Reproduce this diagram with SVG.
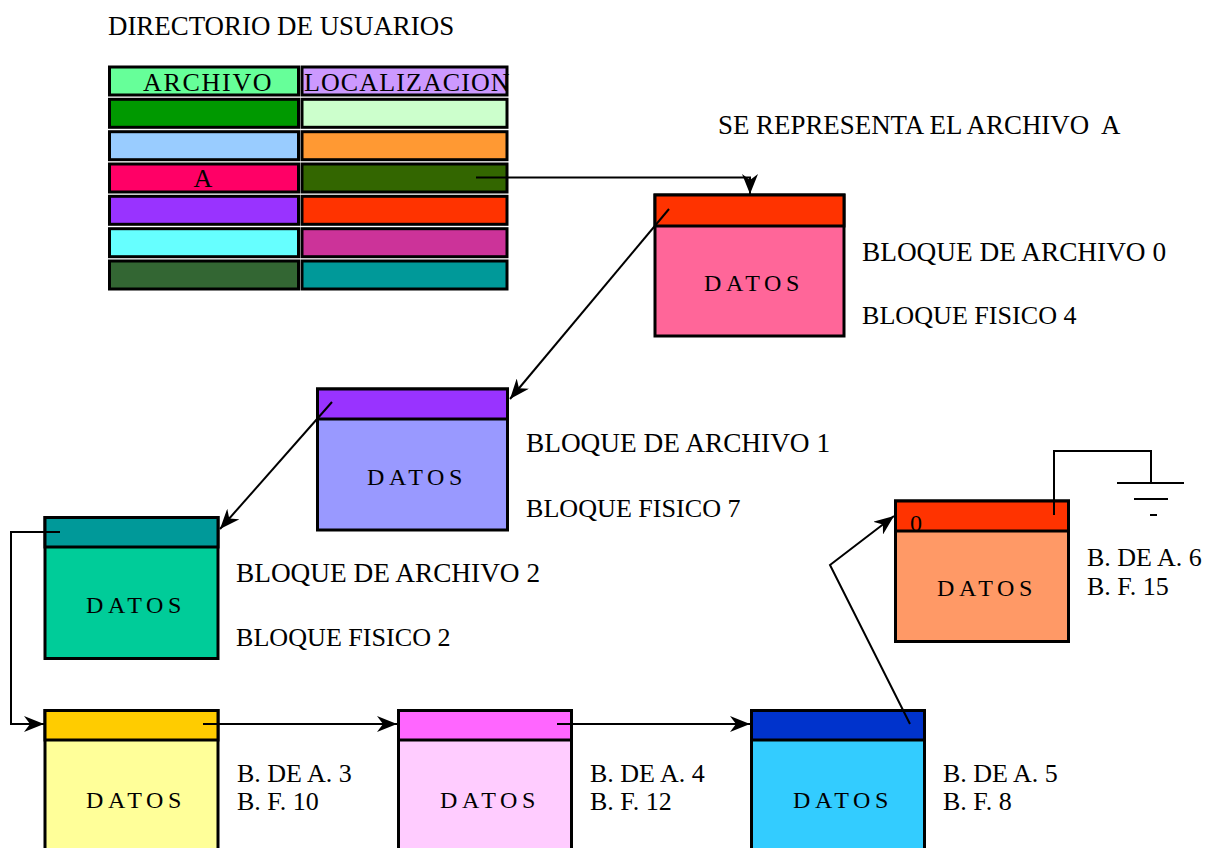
<svg xmlns="http://www.w3.org/2000/svg" width="1208" height="848" viewBox="0 0 1208 848" font-family="'Liberation Serif', 'DejaVu Serif', serif">
<style>
text{font-family:'Liberation Serif','DejaVu Serif',serif;fill:#000}
.lbl{font-size:26.9px}
.blq{font-size:27.3px}
.fis{font-size:26.1px}
.sm{font-size:26px}
.dat{font-size:24px;letter-spacing:4.6px;text-anchor:middle}
.cell{stroke:#000;stroke-width:3}
.box{stroke:#000;stroke-width:3}
.con{fill:none;stroke:#000;stroke-width:2}
</style>
<defs>
<marker id="arr" viewBox="0 0 20 16" refX="20" refY="8" markerWidth="20" markerHeight="16" orient="auto" markerUnits="userSpaceOnUse">
<path d="M0,0 L20,8 L0,16 L6,8 z" fill="#000"/>
</marker>
</defs>
<rect width="1208" height="848" fill="#fff"/>

<text class="lbl" x="108" y="35">DIRECTORIO DE USUARIOS</text>
<text class="lbl" x="718" y="134" xml:space="preserve">SE REPRESENTA EL ARCHIVO  A</text>

<g id="directorio">
<rect class="cell" x="109.5" y="67" width="189" height="28" fill="#66FF99"/>
<rect class="cell" x="302" y="67" width="205" height="28" fill="#CC99FF"/>
<rect class="cell" x="109.5" y="99.3" width="189" height="28" fill="#009900"/>
<rect class="cell" x="302" y="99.3" width="205" height="28" fill="#CCFFCC"/>
<rect class="cell" x="109.5" y="131.7" width="189" height="28" fill="#99CCFF"/>
<rect class="cell" x="302" y="131.7" width="205" height="28" fill="#FF9933"/>
<rect class="cell" x="109.5" y="164" width="189" height="28" fill="#FF0066"/>
<rect class="cell" x="302" y="164" width="205" height="28" fill="#336600"/>
<rect class="cell" x="109.5" y="196.3" width="189" height="28" fill="#9933FF"/>
<rect class="cell" x="302" y="196.3" width="205" height="28" fill="#FF3300"/>
<rect class="cell" x="109.5" y="228.7" width="189" height="28" fill="#66FFFF"/>
<rect class="cell" x="302" y="228.7" width="205" height="28" fill="#CC3399"/>
<rect class="cell" x="109.5" y="261" width="189" height="28" fill="#336633"/>
<rect class="cell" x="302" y="261" width="205" height="28" fill="#009999"/>
<text x="143" y="91" style="font-size:26px;letter-spacing:1.7px">ARCHIVO</text>
<text x="304" y="91" style="font-size:26px;letter-spacing:1.1px">LOCALIZACION</text>
<text x="203" y="187" style="font-size:26px" text-anchor="middle">A</text>
</g>

<g id="bloque0">
<rect class="box" x="655" y="195" width="189" height="141" fill="#FF6699"/>
<rect class="box" x="655" y="195" width="189" height="31" fill="#FF3300"/>
<text class="dat" x="754" y="291">DATOS</text>
<text class="blq" x="862" y="261">BLOQUE DE ARCHIVO 0</text>
<text class="fis" x="862" y="324">BLOQUE FISICO 4</text>
</g>

<g id="bloque1">
<rect class="box" x="317.5" y="389" width="190" height="141" fill="#9999FF"/>
<rect class="box" x="317.5" y="389" width="190" height="30" fill="#9933FF"/>
<text class="dat" x="417" y="485">DATOS</text>
<text class="blq" x="526" y="452">BLOQUE DE ARCHIVO 1</text>
<text class="fis" x="526" y="517">BLOQUE FISICO 7</text>
</g>

<g id="bloque2">
<rect class="box" x="45" y="517.5" width="173" height="141" fill="#00CC99"/>
<rect class="box" x="45" y="517.5" width="173" height="29.5" fill="#009999"/>
<text class="dat" x="136" y="613">DATOS</text>
<text class="blq" x="236" y="582">BLOQUE DE ARCHIVO 2</text>
<text class="fis" x="236" y="646">BLOQUE FISICO 2</text>
</g>

<g id="bloque3">
<rect class="box" x="45" y="710.5" width="173" height="150" fill="#FFFF99"/>
<rect class="box" x="45" y="710.5" width="173" height="29.5" fill="#FFCC00"/>
<text class="dat" x="136" y="808">DATOS</text>
<text class="sm" x="237" y="782">B. DE A. 3</text>
<text class="sm" x="237" y="810">B. F. 10</text>
</g>

<g id="bloque4">
<rect class="box" x="398.5" y="710.5" width="173" height="150" fill="#FFCCFF"/>
<rect class="box" x="398.5" y="710.5" width="173" height="29.5" fill="#FF66FF"/>
<text class="dat" x="490" y="808">DATOS</text>
<text class="sm" x="590" y="782">B. DE A. 4</text>
<text class="sm" x="590" y="810">B. F. 12</text>
</g>

<g id="bloque5">
<rect class="box" x="751.5" y="710.5" width="173" height="150" fill="#33CCFF"/>
<rect class="box" x="751.5" y="710.5" width="173" height="29.5" fill="#0033CC"/>
<text class="dat" x="843" y="808">DATOS</text>
<text class="sm" x="943" y="782">B. DE A. 5</text>
<text class="sm" x="943" y="810">B. F. 8</text>
</g>

<g id="bloque6">
<rect class="box" x="895.5" y="501" width="173" height="140.5" fill="#FF9966"/>
<rect class="box" x="895.5" y="501" width="173" height="30" fill="#FF3300"/>
<text x="910" y="531" style="font-size:24px">0</text>
<text class="dat" x="987" y="596">DATOS</text>
<text class="sm" x="1087" y="566">B. DE A. 6</text>
<text class="sm" x="1087" y="595">B. F. 15</text>
</g>

<g id="connectors">
<polyline class="con" points="476,177.5 750,177.5 750,194" marker-end="url(#arr)"/>
<line class="con" x1="669" y1="209" x2="510" y2="399" marker-end="url(#arr)"/>
<line class="con" x1="332" y1="402" x2="220" y2="529" marker-end="url(#arr)"/>
<polyline class="con" points="60,532 11,532 11,724 44,724" marker-end="url(#arr)"/>
<line class="con" x1="203" y1="724" x2="397" y2="724" marker-end="url(#arr)"/>
<line class="con" x1="557" y1="724" x2="750" y2="724" marker-end="url(#arr)"/>
<polyline class="con" points="910,724 830,565 894,516" marker-end="url(#arr)"/>
<polyline class="con" points="1054,515 1054,451 1151,451 1151,483"/>
<line class="con" x1="1117" y1="483" x2="1184" y2="483"/>
<line class="con" x1="1134" y1="499" x2="1168" y2="499"/>
<line class="con" x1="1150" y1="515" x2="1157" y2="515"/>
</g>
</svg>
